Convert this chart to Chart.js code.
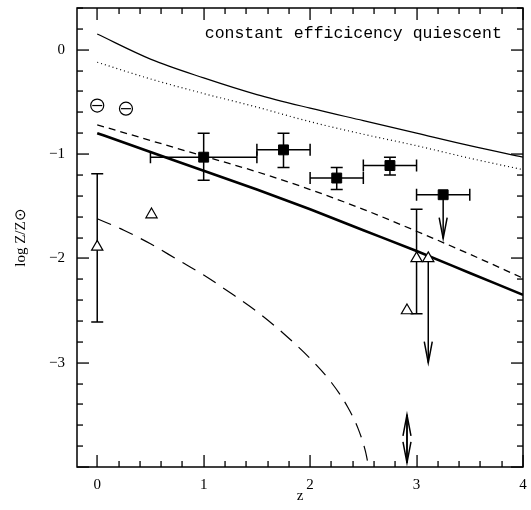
<!DOCTYPE html>
<html>
<head>
<meta charset="utf-8">
<script src="https://cdn.jsdelivr.net/npm/chart.js@4/dist/chart.umd.min.js"></script>
<style>
  body { margin: 0; background: #fff; }
  canvas { display: block; }
</style>
</head>
<body>
<canvas id="chart" width="531" height="510"></canvas>
<script>
// model curves, sampled at these redshifts
var curveZ = [0, 0.5, 1, 1.5, 2, 2.5, 3, 3.5, 4];
var thinSolid = [0.15, -0.09, -0.27, -0.43, -0.56, -0.68, -0.80, -0.92, -1.03];
var dotted = [-0.12, -0.28, -0.42, -0.55, -0.69, -0.81, -0.92, -1.04, -1.15];
var shortDash = [-0.72, -0.87, -1.02, -1.17, -1.34, -1.53, -1.74, -1.96, -2.19];
var thick = [-0.80, -0.98, -1.16, -1.34, -1.53, -1.73, -1.93, -2.14, -2.35];

// long dashed curve drops off the bottom
var longZ = [0, 0.25, 0.5, 0.75, 1, 1.25, 1.5, 1.75, 2, 2.2, 2.35, 2.45, 2.52, 2.55];
var longDash = [-1.62, -1.73, -1.86, -2.01, -2.16, -2.33, -2.51, -2.72, -2.96, -3.19, -3.42, -3.63, -3.85, -4.0];

// filled squares with bin widths and errors
var sqZ = [1.0, 1.75, 2.25, 2.75, 3.25];
var sqY = [-1.03, -0.96, -1.23, -1.11, -1.39];
var sqZlo = [0.5, 1.5, 2.0, 2.5, 3.0];
var sqZhi = [1.5, 2.0, 2.5, 3.0, 3.5];
var sqYlo = [-1.25, -1.13, -1.34, -1.20, null];
var sqYhi = [-0.80, -0.80, -1.13, -1.03, null];
var sqLimit = [null, null, null, null, -1.81];

// open circles
var circZ = [0, 0.27];
var circY = [-0.535, -0.565];

// open triangles
var triZ = [0, 0.51, 2.91, 3.0, 3.11];
var triY = [-1.89, -1.58, -2.50, -2.0, -2.0];
var triYlo = [-2.61, null, null, -2.53, null];
var triYhi = [-1.19, null, null, -1.53, null];
var triLimit = [null, null, null, null, -3.0];

// double arrow near the bottom
var dblZ = 2.91;
var dblRange = [-3.96, -3.50];

var xTickLabels = [0, 1, 2, 3, 4];
var yTickLabels = [0, -1, -2, -3];

var label = 'constant efficicency quiescent';

function pts(xs, ys) {
    return xs.map(function (x, i) { return { x: x, y: ys[i] }; });
}

function minus(v) {
    return v < 0 ? '\u2212' + Math.abs(v) : String(v);
}

function curve(data, width, dash) {
    return {
        type: 'line',
        data: data,
        borderColor: '#000',
        borderWidth: width,
        borderDash: dash,
        pointRadius: 0,
        fill: false,
        cubicInterpolationMode: 'monotone',
        order: 5
    };
}

function arrowHead(ctx, x, y, dir) {
    // open V head, dir = 1 points down, -1 points up
    ctx.beginPath();
    ctx.moveTo(x - 4, y - dir * 21);
    ctx.lineTo(x, y);
    ctx.lineTo(x + 4, y - dir * 21);
    ctx.stroke();
}

function drawTicks(chart) {
    var ctx = chart.ctx;
    var a = chart.chartArea;
    var xs = chart.scales.x, ys = chart.scales.y;
    var n, len, p;
    ctx.save();
    ctx.fillStyle = '#000';
    // ticks point inwards on all four sides, every 0.2
    for (n = 0; n <= 20; n++) {
        len = n % 5 === 0 ? 12 : 6;
        p = Math.round(xs.getPixelForValue(n / 5));
        ctx.fillRect(p - 0.6, a.bottom - len, 1.3, len);
        ctx.fillRect(p - 0.6, a.top, 1.3, len);
    }
    for (n = -20; n <= 2; n++) {
        len = n % 5 === 0 ? 12 : 6;
        p = Math.round(ys.getPixelForValue(n / 5));
        ctx.fillRect(a.left, p - 0.6, len, 1.3);
        ctx.fillRect(a.right - len, p - 0.6, len, 1.3);
    }
    ctx.restore();
}

var extras = {
    id: 'extras',
    beforeDatasetsDraw: function (chart) {
        var ctx = chart.ctx;
        var xs = chart.scales.x, ys = chart.scales.y;
        ctx.save();
        ctx.setLineDash([]);
        ctx.strokeStyle = '#000';
        ctx.lineWidth = 1.5;

        function vbar(z, lo, hi) {
            var px = xs.getPixelForValue(z);
            var a = ys.getPixelForValue(lo), b = ys.getPixelForValue(hi);
            ctx.beginPath();
            ctx.moveTo(px, a); ctx.lineTo(px, b);
            ctx.moveTo(px - 6, a); ctx.lineTo(px + 6, a);
            ctx.moveTo(px - 6, b); ctx.lineTo(px + 6, b);
            ctx.stroke();
        }
        function hbar(y, lo, hi) {
            var py = ys.getPixelForValue(y);
            var a = xs.getPixelForValue(lo), b = xs.getPixelForValue(hi);
            ctx.beginPath();
            ctx.moveTo(a, py); ctx.lineTo(b, py);
            ctx.moveTo(a, py - 6); ctx.lineTo(a, py + 6);
            ctx.moveTo(b, py - 6); ctx.lineTo(b, py + 6);
            ctx.stroke();
        }
        function limit(z, from, to) {
            var px = xs.getPixelForValue(z);
            var a = ys.getPixelForValue(from), b = ys.getPixelForValue(to);
            ctx.beginPath();
            ctx.moveTo(px, a); ctx.lineTo(px, b);
            ctx.stroke();
            arrowHead(ctx, px, b, b > a ? 1 : -1);
        }

        for (var i = 0; i < sqZ.length; i++) {
            hbar(sqY[i], sqZlo[i], sqZhi[i]);
            if (sqYlo[i] !== null) vbar(sqZ[i], sqYlo[i], sqYhi[i]);
            if (sqLimit[i] !== null) limit(sqZ[i], sqY[i], sqLimit[i]);
        }
        for (var j = 0; j < triZ.length; j++) {
            if (triYlo[j] !== null) vbar(triZ[j], triYlo[j], triYhi[j]);
            if (triLimit[j] !== null) limit(triZ[j], triY[j], triLimit[j]);
        }
        limit(dblZ, dblRange[0], dblRange[1]);
        limit(dblZ, dblRange[1], dblRange[0]);
        ctx.restore();
    },
    afterDraw: function (chart) {
        var ctx = chart.ctx;
        var a = chart.chartArea;
        var xs = chart.scales.x, ys = chart.scales.y;
        ctx.save();
        ctx.setLineDash([]);
        ctx.strokeStyle = '#000';
        ctx.fillStyle = '#000';
        ctx.lineWidth = 1.5;
        ctx.strokeRect(a.left, a.top, a.right - a.left, a.bottom - a.top);
        ctx.font = '16.5px "Liberation Mono"';
        ctx.textBaseline = 'alphabetic';
        ctx.fillText(label, xs.getPixelForValue(1.01), ys.getPixelForValue(0.115));
        ctx.restore();
        drawTicks(chart);
    }
};

var tickFont = { family: '"Liberation Serif"', size: 15 };

new Chart(document.getElementById('chart'), {
    type: 'scatter',
    data: {
        datasets: [
            curve(pts(curveZ, thinSolid), 1.2, []),
            curve(pts(curveZ, dotted), 1.2, [1, 3]),
            curve(pts(curveZ, shortDash), 1.3, [7, 5]),
            curve(pts(curveZ, thick), 2.6, []),
            curve(pts(longZ, longDash), 1.2, [15, 9]),
            {
                data: pts(sqZ, sqY),
                pointStyle: 'rect',
                pointRadius: 7,
                backgroundColor: '#000',
                borderColor: '#000',
                borderWidth: 1,
                order: 1
            },
            {
                data: pts(triZ, triY),
                pointStyle: 'triangle',
                pointRadius: 6.5,
                backgroundColor: '#fff',
                borderColor: '#000',
                borderWidth: 1.2,
                order: 1
            },
            {
                data: pts(circZ, circY),
                pointStyle: 'circle',
                pointRadius: 6.5,
                backgroundColor: '#fff',
                borderColor: '#000',
                borderWidth: 1.2,
                order: 1
            },
            {
                data: pts(circZ, circY),
                pointStyle: 'line',
                pointRadius: 5,
                borderColor: '#000',
                borderWidth: 1.2,
                order: 0
            }
        ]
    },
    options: {
        responsive: false,
        animation: false,
        devicePixelRatio: 1,
        layout: { padding: { top: 7, right: 8, left: 0, bottom: 0 } },
        plugins: { legend: { display: false }, tooltip: { enabled: false } },
        scales: {
            x: {
                type: 'linear',
                min: -0.19,
                max: 4,
                grid: { display: false, drawTicks: false },
                border: { display: false },
                afterBuildTicks: function (s) { s.ticks = xTickLabels.map(function (v) { return { value: v }; }); },
                afterFit: function (s) { s.height = 43; s.paddingLeft = 0; s.paddingRight = 0; },
                ticks: { padding: 9, color: '#000', font: tickFont, maxRotation: 0, callback: minus },
                title: { display: true, text: 'z', color: '#000', font: tickFont, padding: { top: 0, bottom: 5 } }
            },
            y: {
                type: 'linear',
                min: -4,
                max: 0.4,
                grid: { display: false, drawTicks: false },
                border: { display: false },
                afterBuildTicks: function (s) { s.ticks = yTickLabels.map(function (v) { return { value: v }; }); },
                afterFit: function (s) { s.width = 77; s.paddingTop = 0; s.paddingBottom = 0; },
                ticks: { padding: 12, color: '#000', font: tickFont, callback: minus },
                title: { display: true, text: 'log Z/Z\u2299', color: '#000', font: tickFont, padding: { top: 12, bottom: 0 } }
            }
        }
    },
    plugins: [extras]
});
</script>
</body>
</html>
